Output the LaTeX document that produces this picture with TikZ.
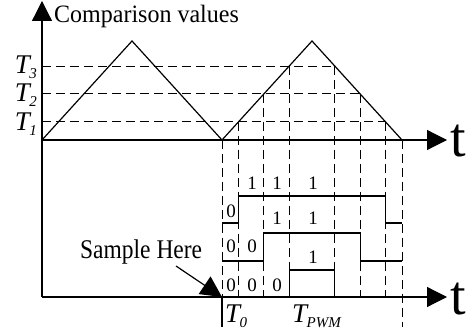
\documentclass[tikz,border=0pt]{standalone}
\usepackage{fontspec}
\setmainfont{Liberation Serif}
\usetikzlibrary{arrows.meta,calc}
\newcommand{\Tsub}[1]{T\kern-0.5pt\raisebox{-5pt}{\fontsize{15}{15}\selectfont #1}}

\begin{document}
\begin{tikzpicture}[x=1pt, y=-1pt,
    axis/.style={line width=1.2pt, -{Triangle[length=20pt, width=20pt]}},
    guide/.style={line width=1pt, dash pattern=on 9pt off 5pt},
    wave/.style={line width=1.2pt},
    bit/.style={font=\fontsize{19}{19}\selectfont, inner sep=0pt},
    tlab/.style={font=\fontsize{27}{27}\selectfont\itshape, inner sep=0pt},
    txt/.style={font=\fontsize{25}{25}\selectfont, inner sep=0pt, anchor=base west},
    big/.style={font=\fontsize{56}{56}\selectfont, inner sep=0pt, anchor=base west}
]
\useasboundingbox (0,0) rectangle (468,336);

% Axes
\coordinate (O1) at (42,140);
\coordinate (O2) at (42,297);
\coordinate (top) at (42,1);
\coordinate (e1) at (447,140);
\coordinate (e2) at (447,297);
\draw[axis] (O2) -- (top);
\draw[axis] (O1) -- (e1);
\draw[axis] (O2) -- (e2);
\node[txt, xscale=0.96] (title) at (54,23) {Comparison values};
\node[big] (t1) at (450,157) {t};
\node[big] (t2) at (450,315) {t};

% Carrier
\coordinate (v1) at (222,140);
\coordinate (v2) at (402,140);
\coordinate (p1) at (132,41);
\coordinate (p2) at (312,41);
\draw[wave] (O1) -- (p1) -- (v1) -- (p2) -- (v2);

% Comparison levels
\coordinate (c1a) at ($(v1)!0.185!(p2)$);
\coordinate (c1b) at ($(v2)!0.185!(p2)$);
\coordinate (c2a) at ($(v1)!0.465!(p2)$);
\coordinate (c2b) at ($(v2)!0.465!(p2)$);
\coordinate (c3a) at ($(v1)!0.747!(p2)$);
\coordinate (c3b) at ($(v2)!0.747!(p2)$);
\node[tlab, anchor=base east] (T1) at (37,131) {\Tsub{1}};
\node[tlab, anchor=base east] (T2) at (37,102) {\Tsub{2}};
\node[tlab, anchor=base east] (T3) at (37,74) {\Tsub{3}};
\draw[guide] (O1 |- c1b) -- (c1b);
\draw[guide] (O1 |- c2b) -- (c2b);
\draw[guide] (O1 |- c3b) -- (c3b);

% Switching instants
\coordinate (f1) at (222,327);
\coordinate (f2) at (402,327);
\draw[guide] (v1) -- (v1 |- O2);
\draw[wave] (v1 |- O2) -- (f1);
\draw[guide] (v2) -- (f2);
\draw[guide] (c1a) -- (c1a |- O2);
\draw[guide] (c2a) -- (c2a |- O2);
\draw[guide] (c3a) -- (c3a |- O2);
\draw[guide] (c3b) -- (c3b |- O2);
\draw[guide] (c2b) -- (c2b |- O2);
\draw[guide] (c1b) -- (c1b |- O2);

% Gate signals
\coordinate (h1) at (0,196);
\coordinate (l1) at (0,223);
\coordinate (h2) at (0,233);
\coordinate (l2) at (0,261);
\coordinate (h3) at (0,270);
\draw[wave] (v1 |- l1) -- (c1a |- l1) -- (c1a |- h1) -- (c1b |- h1) -- (c1b |- l1) -- (v2 |- l1);
\draw[wave] (v1 |- l2) -- (c2a |- l2) -- (c2a |- h2) -- (c2b |- h2) -- (c2b |- l2) -- (v2 |- l2);
\draw[wave] (c3a |- O2) -- (c3a |- h3) -- (c3b |- h3) -- (c3b |- O2);

\node[bit] (b10) at (231,211) {0};
\node[bit] (b11) at (252,183) {1};
\node[bit] (b12) at (277,183) {1};
\node[bit] (b13) at (313,183) {1};
\node[bit] (b20) at (231,246) {0};
\node[bit] (b21) at (252,246) {0};
\node[bit] (b22) at (277,218) {1};
\node[bit] (b23) at (313,218) {1};
\node[bit] (b30) at (231,285) {0};
\node[bit] (b31) at (252,285) {0};
\node[bit] (b32) at (277,285) {0};
\node[bit] (b33) at (313,257) {1};

% Sampling
\node[txt, font=\fontsize{27}{27}\selectfont, xscale=0.87] (sample) at (80,259) {Sample Here};
\coordinate (s0) at (176,266);
\draw[line width=1.2pt, -{Triangle[length=21pt, width=21pt]}] (s0) -- (v1 |- O2);
\node[tlab, anchor=base west] (T0) at (225,323) {\Tsub{0}};
\node[tlab, anchor=base west] (Tpwm) at (292,323) {\Tsub{PWM}};
\end{tikzpicture}
\end{document}
